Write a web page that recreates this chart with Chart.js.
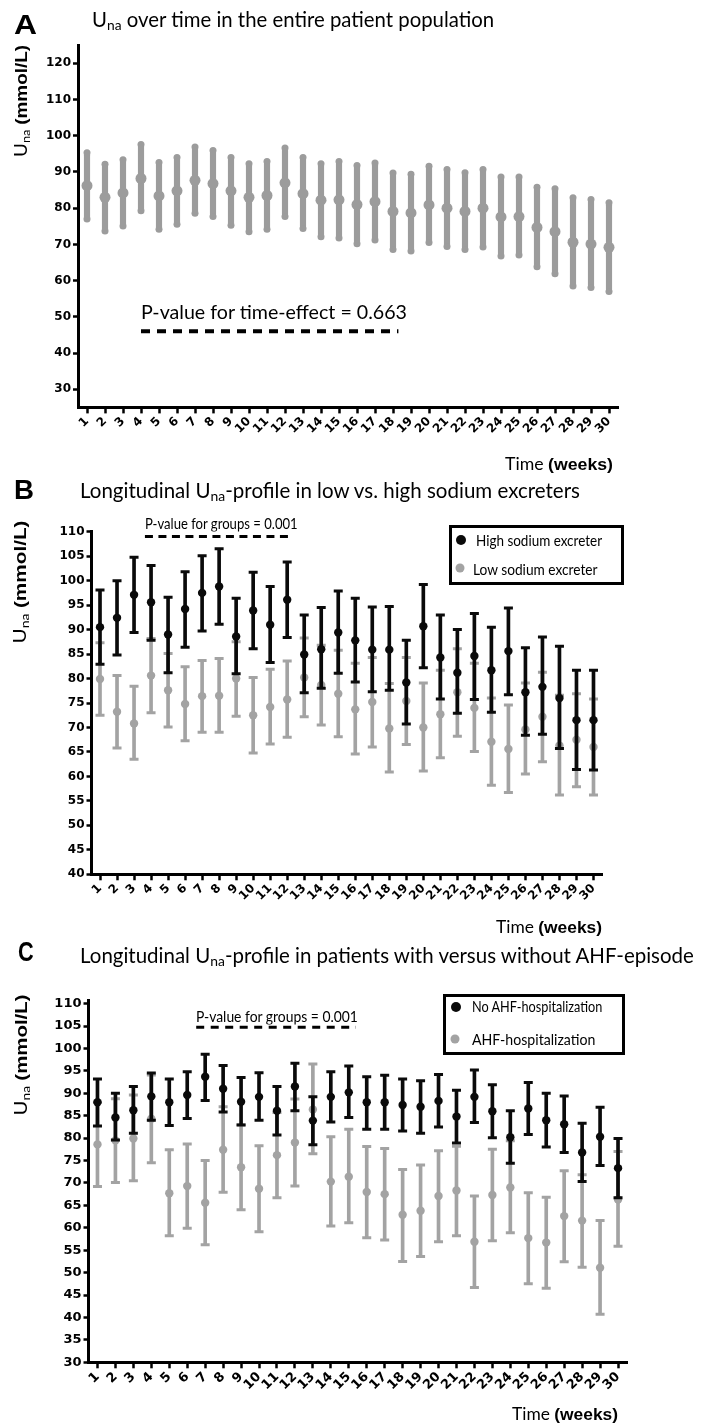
<!DOCTYPE html>
<html>
<head>
<meta charset="utf-8">
<title>Urinary sodium over time</title>
<script src="https://cdn.jsdelivr.net/npm/chart.js@4.4.1/dist/chart.umd.min.js"></script>
<style>
  html, body { margin: 0; padding: 0; background: #fff; }
  #page { position: relative; width: 704px; height: 1423px; overflow: hidden; font-family: Lato, "Open Sans", sans-serif; color: #000; }
  canvas { position: absolute; left: 0; }
  .txt { position: absolute; white-space: nowrap; line-height: 1; transform-origin: 0 50%; }
  .letter { font-family: "Liberation Sans", Arial, sans-serif; font-weight: bold; font-size: 28px; }
  .title { font-size: 21px; }
  .small { font-size: 15px; }
  .time { font-size: 17px; }
  .time b, .ytitle b { font-family: "Liberation Sans", Arial, sans-serif; }
  .ytitle { position: absolute; white-space: nowrap; line-height: 1; font-size: 17px; }
  sub { font-size: 0.68em; vertical-align: -0.25em; line-height: 0; }
  .legend { position: absolute; border: 3px solid #000; box-sizing: border-box; }
  .dot { position: absolute; border-radius: 50%; transform: translate(-50%, -50%); }
</style>
</head>
<body>
<div id="page">
  <canvas id="chartA" width="704" height="470" style="top:0"></canvas>
  <canvas id="chartB" width="704" height="480" style="top:470px"></canvas>
  <canvas id="chartC" width="704" height="473" style="top:950px"></canvas>

  <!-- panel A -->
  <div class="txt letter" style="left:13.5px;top:25px" data-w="23">A</div>
  <div class="txt title" style="left:92px;top:17.6px" data-w="402">U<sub>na</sub> over time in the entire patient population</div>
  <div class="ytitle" data-cx="21" data-cy="101" data-len="112">U<sub>na</sub> <b>(mmol/L)</b></div>
  <div class="txt" style="left:140.6px;top:311.3px;font-size:19px" data-w="266">P-value for time-effect = 0.663</div>
  <div class="txt time" style="left:505px;top:463.8px" data-w="108">Time <b>(weeks)</b></div>

  <!-- panel B -->
  <div class="txt letter" style="left:13.5px;top:490px" data-w="20">B</div>
  <div class="txt title" style="left:80px;top:489.3px" data-w="500">Longitudinal U<sub>na</sub>-profile in low vs. high sodium excreters</div>
  <div class="ytitle" data-cx="19.5" data-cy="581.5" data-len="123">U<sub>na</sub> <b>(mmol/L)</b></div>
  <div class="txt small" style="left:144.7px;top:523px" data-w="152.7">P-value for groups = 0.001</div>
  <div class="legend" style="left:449px;top:525px;width:175px;height:60px"></div>
  <div class="dot" style="left:460.5px;top:540px;width:10px;height:10px;background:#0a0a0a"></div>
  <div class="txt small" style="left:476px;top:539.6px" data-w="126">High sodium excreter</div>
  <div class="dot" style="left:459.6px;top:568.3px;width:9px;height:9px;background:#a3a3a3"></div>
  <div class="txt small" style="left:473px;top:568.6px" data-w="124.5">Low sodium excreter</div>
  <div class="txt time" style="left:496px;top:926.5px" data-w="106">Time <b>(weeks)</b></div>

  <!-- panel C -->
  <div class="txt letter" style="left:18px;top:952px" data-w="15.7">C</div>
  <div class="txt title" style="left:80px;top:954.3px" data-w="614">Longitudinal U<sub>na</sub>-profile in patients with versus without AHF-episode</div>
  <div class="ytitle" data-cx="21" data-cy="1054.6" data-len="121">U<sub>na</sub> <b>(mmol/L)</b></div>
  <div class="txt small" style="left:196px;top:1016px" data-w="162">P-value for groups = 0.001</div>
  <div class="legend" style="left:442.5px;top:994px;width:182px;height:61px"></div>
  <div class="dot" style="left:456px;top:1007.3px;width:10px;height:10px;background:#0a0a0a"></div>
  <div class="txt small" style="left:471.7px;top:1006.3px" data-w="130.3">No AHF-hospitalization</div>
  <div class="dot" style="left:455px;top:1039px;width:9px;height:9px;background:#a3a3a3"></div>
  <div class="txt small" style="left:471.7px;top:1038.6px" data-w="123.3">AHF-hospitalization</div>
  <div class="txt time" style="left:512px;top:1413.8px" data-w="106">Time <b>(weeks)</b></div>
</div>

<script>
// week labels shared by all three panels
const weeks = ['1','2','3','4','5','6','7','8','9','10','11','12','13','14','15',
  '16','17','18','19','20','21','22','23','24','25','26','27','28','29','30'];

// A: whole population (mean and error bar ends, mmol/L)
const aMean = [86.2,83.0,84.2,88.2,83.4,84.8,87.7,86.8,84.8,83.0,83.5,87.0,84.0,82.2,82.3,81.0,81.8,79.1,78.7,80.9,80.0,79.1,80.0,77.6,77.7,74.7,73.5,70.6,70.1,69.2];
const aHigh = [95.3,92.1,93.4,97.6,92.6,94.0,96.9,95.9,94.0,92.3,92.9,96.6,94.0,92.3,92.9,91.8,92.5,89.7,89.4,91.6,90.7,89.8,90.7,88.6,88.6,85.8,85.4,82.9,82.4,81.5];
const aLow = [77.0,73.7,75.1,79.3,74.2,75.6,78.6,77.7,75.3,73.5,74.2,77.7,74.4,72.1,71.8,70.2,71.2,68.6,68.2,70.5,69.4,68.6,69.3,66.8,67.1,63.8,61.9,58.5,58.1,57.0];
const aTicks = [30,40,50,60,70,80,90,100,110,120];

// B: high sodium excreters
const bHiMean = [90.5,92.4,97.1,95.6,89.0,94.2,97.5,98.8,88.6,93.9,91.0,96.1,84.9,86.0,89.4,87.8,85.9,85.9,79.2,90.7,84.3,81.2,84.6,81.7,85.6,77.2,78.3,76.0,71.5,71.5];
const bHiUp = [98.1,100.0,104.8,103.1,96.6,101.8,105.1,106.5,96.4,101.7,98.8,103.8,93.0,94.5,97.9,96.4,94.6,94.7,87.8,99.2,93.0,90.0,93.3,90.5,94.4,86.3,88.5,86.6,81.7,81.7];
const bHiLo = [82.9,84.8,89.4,87.8,81.2,86.4,89.7,91.1,81.0,86.1,83.3,88.4,77.1,78.0,81.1,79.3,77.3,77.6,70.7,82.2,75.8,72.9,75.7,73.1,76.7,68.4,68.6,65.7,61.4,61.3];
// B: low sodium excreters
const bLoMean = [79.9,73.2,70.8,80.6,77.6,74.8,76.4,76.5,80.0,72.5,74.2,75.7,80.2,78.7,76.9,73.7,75.2,69.8,75.4,70.0,72.7,77.2,74.0,67.1,65.6,69.6,72.2,66.3,67.5,66.0];
const bLoUp = [87.3,80.6,78.4,88.2,85.1,82.4,83.7,84.1,87.5,80.2,81.9,83.6,88.3,86.8,85.8,83.1,84.3,79.0,84.3,79.1,81.7,86.1,83.1,76.0,74.6,79.1,81.3,76.6,76.9,75.8];
const bLoLo = [72.5,65.8,63.5,73.0,70.1,67.3,69.0,69.0,72.3,64.8,66.6,68.0,72.2,70.5,68.1,64.6,66.0,60.9,66.5,61.1,63.8,68.2,65.1,58.2,56.7,60.5,63.0,56.2,57.9,56.2];
const bTicks = [40,45,50,55,60,65,70,75,80,85,90,95,100,105,110];

// C: no AHF hospitalization
const cNoMean = [88.0,84.6,86.2,89.3,88.0,89.6,93.7,91.0,88.1,89.2,86.1,91.5,83.9,89.2,90.2,88.0,88.0,87.4,87.0,88.3,84.8,89.2,86.0,80.2,86.6,84.0,83.1,76.8,80.3,73.3];
const cNoUp = [93.2,90.0,91.5,94.5,93.2,94.8,98.7,96.2,93.5,94.6,91.5,96.7,89.2,94.8,96.1,93.7,94.0,93.2,92.8,94.2,90.7,95.2,91.9,86.1,92.4,90.0,89.4,83.3,86.9,79.9];
const cNoLo = [82.7,79.6,81.1,84.0,82.8,84.4,88.4,85.8,82.9,84.0,80.7,86.1,78.5,83.6,84.6,82.0,82.0,81.6,81.1,82.5,78.9,83.5,80.1,74.4,80.8,78.0,76.8,70.3,73.9,66.7];
// C: AHF hospitalization
const cAhfMean = [78.6,79.5,79.9,84.3,67.7,69.3,65.6,77.4,73.5,68.7,76.2,79.0,86.4,70.3,71.4,68.0,67.5,62.9,63.8,67.1,68.3,56.9,67.3,69.0,57.7,56.7,62.6,61.6,51.1,66.3];
const cAhfUp = [88.0,88.8,89.6,94.1,77.4,78.7,75.0,87.0,83.0,78.3,85.7,88.7,96.5,80.3,82.0,78.1,77.7,73.0,74.0,77.2,78.2,67.1,77.5,79.4,67.8,66.8,72.7,71.8,61.6,77.0];
const cAhfLo = [69.2,70.1,70.5,74.5,58.2,59.9,56.2,67.9,64.0,59.1,66.7,69.3,76.5,60.4,61.1,57.8,57.3,52.5,53.6,56.9,58.2,46.7,57.1,58.9,47.5,46.5,52.4,51.2,40.7,55.9];
const cTicks = [30,35,40,45,50,55,60,65,70,75,80,85,90,95,100,105,110];

// p-value dashed lines: [from week, to week, value]
const pLineA = [4, 18.3, 46];
const pLineB = [3.64, 12.35, 109];
const pLineC = [6.5, 15.4, 104.7];

const BLACK = '#0a0a0a';
const GREY_A = '#9c9c9c';
const GREY = '#a3a3a3';

// dashed line under the p-value text
const pLinePlugin = {
  id: 'pline',
  afterDatasetsDraw(chart, args, opts) {
    if (!opts.line) return;
    const { ctx, scales } = chart;
    const [w0, w1, v] = opts.line;
    const py = scales.y.getPixelForValue(v);
    ctx.save();
    ctx.strokeStyle = '#000';
    ctx.lineWidth = opts.width;
    ctx.setLineDash(opts.dash);
    ctx.beginPath();
    ctx.moveTo(scales.x.getPixelForValue(w0 - 1), py);
    ctx.lineTo(scales.x.getPixelForValue(w1 - 1), py);
    ctx.stroke();
    ctx.restore();
  }
};

// whisker bar + two caps + mean dot for one group
function errorSets(mean, lo, hi, color, o) {
  const cap = {
    type: 'line', showLine: false, pointStyle: o.capStyle, pointRadius: o.cap,
    pointBorderColor: color, pointBackgroundColor: color, pointBorderWidth: o.capW
  };
  return [
    { type: 'line', data: mean, order: o.base, showLine: false, pointStyle: 'circle',
      pointRadius: o.dot, pointBackgroundColor: color, pointBorderWidth: 0 },
    Object.assign({ data: hi, order: o.base + 1 }, cap),
    Object.assign({ data: lo, order: o.base + 2 }, cap),
    { type: 'bar', data: lo.map((v, i) => [v, hi[i]]), order: o.base + 3, backgroundColor: color,
      barThickness: o.bar, grouped: false, borderSkipped: false, borderRadius: o.radius }
  ];
}

function makeChart(id, datasets, p) {
  const tickFont = { family: 'DejaVu Sans', weight: 'bold', size: p.fs };
  return new Chart(document.getElementById(id), {
    type: 'bar',
    data: { labels: weeks, datasets },
    plugins: [pLinePlugin],
    options: {
      responsive: false,
      devicePixelRatio: 1,
      animation: false,
      events: [],
      layout: { padding: { top: p.top, right: p.right, bottom: 0, left: 0 } },
      plugins: {
        legend: { display: false },
        tooltip: { enabled: false },
        pline: { line: p.pline, width: p.dashW, dash: p.dash }
      },
      scales: {
        x: {
          offset: true,
          afterFit: s => { s.height = p.xh; },
          border: { display: true, width: 3, color: '#000' },
          grid: { display: true, drawOnChartArea: false, offset: false, tickLength: 6, tickWidth: 2.5, tickColor: '#000' },
          ticks: { autoSkip: false, minRotation: 45, maxRotation: 45, padding: 1, color: '#000', font: tickFont }
        },
        y: {
          min: p.min,
          max: p.max,
          afterBuildTicks: s => { s.ticks = p.ticks.map(v => ({ value: v })); },
          afterFit: s => { s.width = p.left; },
          border: { display: true, width: 3, color: '#000' },
          grid: { display: true, drawOnChartArea: false, tickLength: 5, tickWidth: 2.5, tickColor: '#000' },
          ticks: { padding: 2, color: '#000', font: tickFont }
        }
      }
    }
  });
}

const styleA = { base: 1, dot: 5.5, cap: 3.5, capW: 0, capStyle: 'circle', bar: 5.5, radius: 3 };
makeChart('chartA', errorSets(aMean, aLow, aHigh, GREY_A, styleA), {
  top: 45.2, right: 86, left: 78, xh: 62.6, min: 25, max: 125, ticks: aTicks, fs: 12,
  pline: pLineA, dashW: 4, dash: [9, 7]
});

const styleBlack = { base: 1, dot: 4.2, cap: 4.5, capW: 3, capStyle: 'line', bar: 3, radius: 0 };
const styleGrey = { base: 5, dot: 4.2, cap: 4.5, capW: 3, capStyle: 'line', bar: 3, radius: 0 };

makeChart('chartB', errorSets(bHiMean, bHiLo, bHiUp, BLACK, styleBlack)
  .concat(errorSets(bLoMean, bLoLo, bLoUp, GREY, styleGrey)), {
  top: 61.7, right: 102, left: 91.5, xh: 75.7, min: 40, max: 110, ticks: bTicks, fs: 12,
  pline: pLineB, dashW: 3, dash: [8, 5.5]
});

makeChart('chartC', errorSets(cNoMean, cNoLo, cNoUp, BLACK, styleBlack)
  .concat(errorSets(cAhfMean, cAhfLo, cAhfUp, GREY, styleGrey)), {
  top: 50, right: 77, left: 88.5, xh: 60.7, min: 30, max: 110.8, ticks: cTicks, fs: 13,
  pline: pLineC, dashW: 3, dash: [8, 6.5]
});

// squeeze text to the widths measured on the figure
document.querySelectorAll('.txt[data-w]').forEach(el => {
  const s = +el.dataset.w / el.getBoundingClientRect().width;
  el.style.transform = 'translateY(-50%) scaleX(' + s.toFixed(3) + ')';
});
document.querySelectorAll('.ytitle').forEach(el => {
  const s = +el.dataset.len / el.getBoundingClientRect().width;
  el.style.left = el.dataset.cx + 'px';
  el.style.top = el.dataset.cy + 'px';
  el.style.transform = 'translate(-50%, -50%) rotate(-90deg) scaleX(' + s.toFixed(3) + ')';
});
</script>
</body>
</html>
